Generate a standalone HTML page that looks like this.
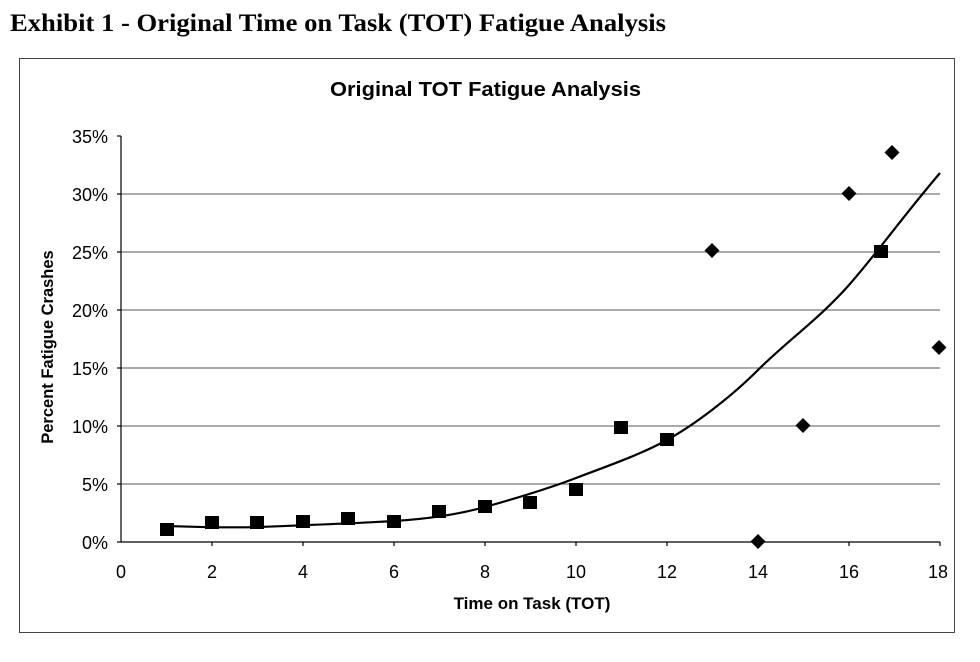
<!DOCTYPE html>
<html><head><style>body{margin:0;background:#fff;width:980px;height:657px;overflow:hidden}</style></head>
<body>
<svg width="980" height="657" xmlns="http://www.w3.org/2000/svg">
<text x="10" y="31" font-family="Liberation Serif" font-weight="bold" font-size="25" textLength="656" lengthAdjust="spacingAndGlyphs">Exhibit 1 - Original Time on Task (TOT) Fatigue Analysis</text>
<rect x="19.5" y="58.5" width="935" height="574" fill="none" stroke="#444" stroke-width="1"/>
<text x="330" y="96" font-family="Liberation Sans" font-weight="bold" font-size="20" textLength="311" lengthAdjust="spacingAndGlyphs">Original TOT Fatigue Analysis</text>
<g stroke="#555" stroke-width="1">
<line x1="121" y1="194" x2="940" y2="194"/><line x1="121" y1="252" x2="940" y2="252"/>
<line x1="121" y1="310" x2="940" y2="310"/><line x1="121" y1="368" x2="940" y2="368"/>
<line x1="121" y1="426" x2="940" y2="426"/><line x1="121" y1="484" x2="940" y2="484"/>
</g>
<g stroke="#000" stroke-width="1.2">
<line x1="121" y1="136" x2="121" y2="542"/><line x1="121" y1="542" x2="940" y2="542"/>
<line x1="117" y1="136" x2="121" y2="136"/><line x1="117" y1="194" x2="121" y2="194"/><line x1="117" y1="252" x2="121" y2="252"/><line x1="117" y1="310" x2="121" y2="310"/><line x1="117" y1="368" x2="121" y2="368"/><line x1="117" y1="426" x2="121" y2="426"/><line x1="117" y1="484" x2="121" y2="484"/><line x1="117" y1="542" x2="121" y2="542"/>
<line x1="212" y1="542" x2="212" y2="546"/><line x1="303" y1="542" x2="303" y2="546"/><line x1="394" y1="542" x2="394" y2="546"/><line x1="485" y1="542" x2="485" y2="546"/><line x1="576" y1="542" x2="576" y2="546"/><line x1="667" y1="542" x2="667" y2="546"/><line x1="758" y1="542" x2="758" y2="546"/><line x1="849" y1="542" x2="849" y2="546"/><line x1="940" y1="542" x2="940" y2="546"/>
</g>
<g font-family="Liberation Sans" font-size="18" text-anchor="end">
<text x="108" y="143">35%</text><text x="108" y="201">30%</text><text x="108" y="259">25%</text><text x="108" y="317">20%</text><text x="108" y="375">15%</text><text x="108" y="433">10%</text><text x="108" y="491">5%</text><text x="108" y="549">0%</text>
</g>
<g font-family="Liberation Sans" font-size="18" text-anchor="middle">
<text x="121" y="578">0</text><text x="212" y="578">2</text><text x="303" y="578">4</text><text x="394" y="578">6</text><text x="485" y="578">8</text><text x="576" y="578">10</text><text x="667" y="578">12</text><text x="758" y="578">14</text><text x="849" y="578">16</text><text x="938" y="578">18</text>
</g>
<text x="532" y="609" text-anchor="middle" font-family="Liberation Sans" font-weight="bold" font-size="17">Time on Task (TOT)</text>
<text transform="translate(53,347) rotate(-90)" text-anchor="middle" font-family="Liberation Sans" font-weight="bold" font-size="16.5">Percent Fatigue Crashes</text>
<path d="M166,526 C200,527 230,528 257,527 S360,523 394,521 S460,514 485,507 S550,488 576,478 S640,455 667,440 S730,398 758,370 S820,318 849,285 S900,220 940,173" fill="none" stroke="#000" stroke-width="2.2"/>
<g fill="#000">
<rect x="160" y="523" width="14" height="13"/><rect x="205" y="516" width="14" height="13"/><rect x="250" y="516" width="14" height="13"/><rect x="296" y="515" width="14" height="13"/><rect x="341" y="512" width="14" height="13"/><rect x="387" y="515" width="14" height="13"/><rect x="432" y="505" width="14" height="13"/><rect x="478" y="500" width="14" height="13"/><rect x="523" y="496" width="14" height="13"/><rect x="569" y="483" width="14" height="13"/><rect x="614" y="421" width="14" height="13"/><rect x="660" y="433" width="14" height="13"/><rect x="874" y="245" width="14" height="13"/>
</g>
<g fill="#000">
<path d="M712,243 l7.5,7.5 l-7.5,7.5 l-7.5,-7.5z"/><path d="M758,534 l7.5,7.5 l-7.5,7.5 l-7.5,-7.5z"/><path d="M803,418 l7.5,7.5 l-7.5,7.5 l-7.5,-7.5z"/><path d="M849,186 l7.5,7.5 l-7.5,7.5 l-7.5,-7.5z"/><path d="M892,145 l7.5,7.5 l-7.5,7.5 l-7.5,-7.5z"/><path d="M939,340 l7.5,7.5 l-7.5,7.5 l-7.5,-7.5z"/>
</g>
</svg>
</body></html>
